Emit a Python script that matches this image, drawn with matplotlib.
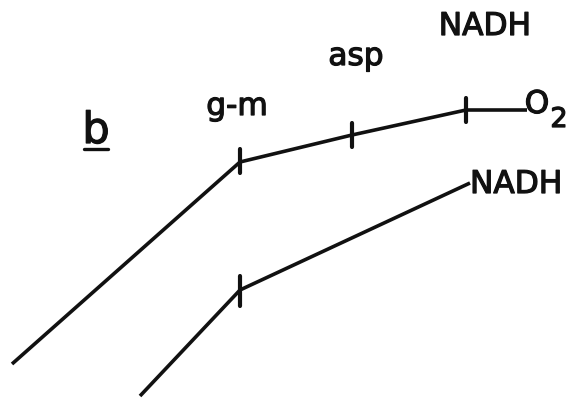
import matplotlib
matplotlib.use("Agg")
import matplotlib.pyplot as plt
import matplotlib.patheffects as pe

# Oxygen electrode traces (recorder chart coordinates: time along x, O2 signal along y)
upper_time = [12, 240, 352, 466, 527]
upper_o2 = [364, 162, 135, 110, 110]
lower_time = [140, 240, 470]
lower_o2 = [396, 290, 183]

# Additions marked on the traces
upper_marks_time = [240, 352, 466]
upper_marks_o2 = [161, 135, 110]
upper_mark_labels = ["g-m", "asp", "NADH"]
lower_marks_time = [240]
lower_marks_o2 = [290]
lower_end_label = "NADH"

fig = plt.figure(figsize=(5.84, 4.0), dpi=100)
ax = fig.add_axes([0, 0, 1, 1])
ax.set_xlim(0, 584)
ax.set_ylim(400, 0)
ax.axis("off")

ink = "#111111"
lw = 2.6

ax.plot(upper_time, upper_o2, color=ink, lw=lw, solid_capstyle="butt", solid_joinstyle="round")
ax.plot(lower_time, lower_o2, color=ink, lw=lw, solid_capstyle="butt", solid_joinstyle="round")

for t, v in zip(upper_marks_time, upper_marks_o2):
    ax.plot([t, t], [v - 12, v + 12], color=ink, lw=3.0, solid_capstyle="round")
for t, v in zip(lower_marks_time, lower_marks_o2):
    ax.plot([t, t], [v - 14, v + 16], color=ink, lw=3.0, solid_capstyle="round")

thick = [pe.withStroke(linewidth=0.9, foreground=ink)]
font = dict(family="DejaVu Sans", color=ink, fontsize=22.5, path_effects=thick)

label_pos = [(237, 115), (356, 65), (485, 35)]
for (x, y), lab in zip(label_pos, upper_mark_labels):
    ax.text(x, y, lab, ha="center", va="baseline", **font)

ax.text(470, 193, lower_end_label, ha="left", va="baseline", **font)

# O2 label with a large subscript
ax.text(537, 113, "O", ha="center", va="baseline", **font)
ax.text(559, 127, "2", ha="center", va="baseline", family="DejaVu Sans",
        color=ink, fontsize=19.5, path_effects=thick)

# panel letter, underlined
ax.text(96, 143, "b", ha="center", va="baseline", family="DejaVu Sans",
        color=ink, fontsize=31, path_effects=thick)
ax.plot([84, 108], [149, 149], color=ink, lw=2.4, solid_capstyle="round")

fig.savefig("out.png", dpi=100)
